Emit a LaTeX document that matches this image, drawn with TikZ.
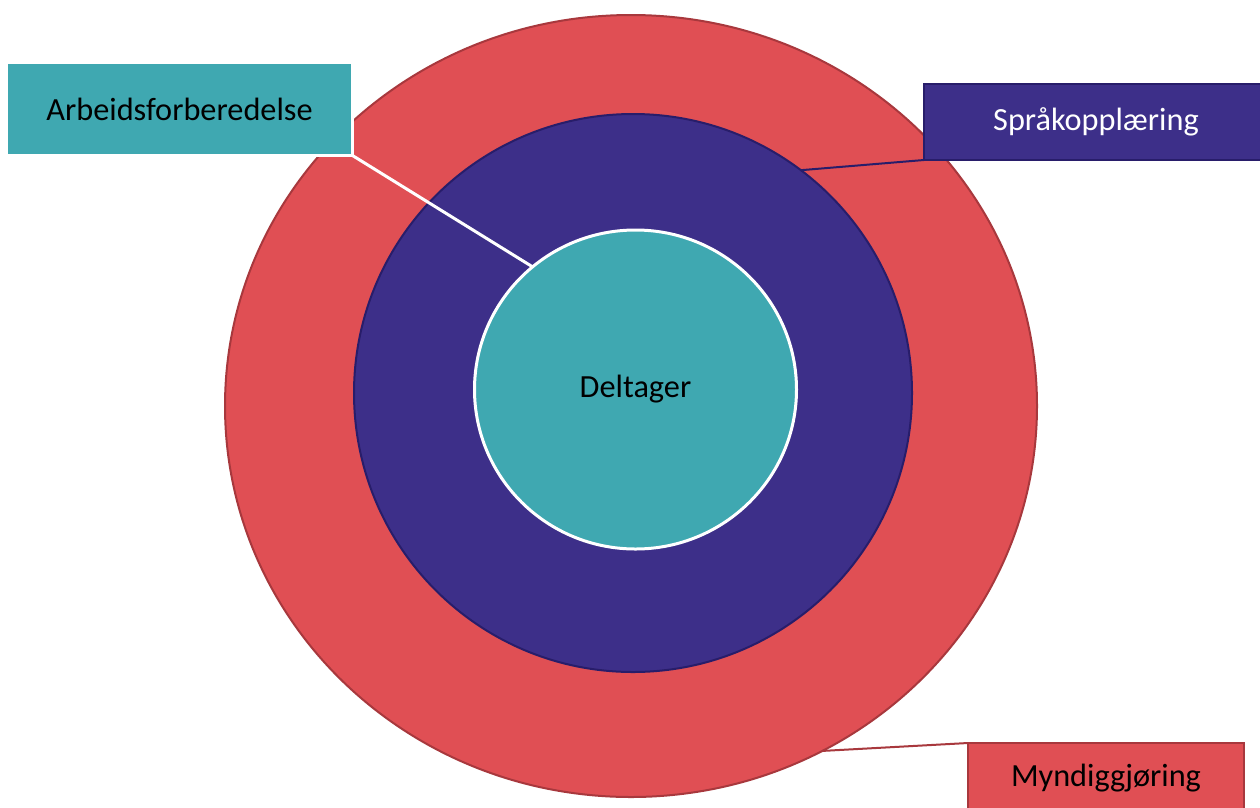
\documentclass[tikz,border=0pt]{standalone}
\usepackage{fontspec}
\setmainfont{Carlito}
\usetikzlibrary{shapes.geometric}
\definecolor{cred}{HTML}{E04F54}
\definecolor{credline}{HTML}{A8383D}
\definecolor{cpurp}{HTML}{3D2F89}
\definecolor{cpurpline}{HTML}{281D6A}
\definecolor{cteal}{HTML}{3FA8B1}
\tikzset{
  ring/.style={ellipse, inner sep=0pt, outer sep=0pt},
  lbl/.style={rectangle, inner sep=0pt, outer sep=0pt, font=\fontsize{32.3}{37}\selectfont},
}
\begin{document}
\begin{tikzpicture}[x=1pt,y=-1pt]
\useasboundingbox (0,0) rectangle (1260,807);
\fill[white] (0,0) rectangle (1260,807);
% rings
\node[ring, fill=cred, draw=credline, line width=2pt, minimum width=812pt, minimum height=782pt] (outer) at (631,406) {};
\node[ring, fill=cpurp, draw=cpurpline, line width=2pt, minimum width=558pt, minimum height=558pt] (purp) at (633,393) {};
\node[ring, fill=cteal, draw=white, line width=3pt, minimum width=322pt, minimum height=319pt, font=\fontsize{32.3}{37}\selectfont] (delt) at (635.5,389.5) {Deltager};
% labels
\node[lbl, fill=cteal, draw=white, line width=3pt, minimum width=346pt, minimum height=93pt] (arb) at (179.5,109) {Arbeidsforberedelse};
\node[lbl, fill=cpurp, draw=cpurpline, line width=2pt, text=white, minimum width=344pt, minimum height=76pt] (sprak) at (1096,122) {Språkopplæring};
\node[lbl, fill=cred, draw=credline, line width=2pt, minimum width=276pt, minimum height=70pt] (mynd) at (1106,778) {Myndiggjøring};
% connectors
\draw[white, line width=3pt] (arb.south east) -- (delt.130);
\draw[cpurpline, line width=2pt] (sprak.south west) -- (purp.53);
\draw[credline, line width=2pt] (mynd.north west) -- (outer.-61);
\end{tikzpicture}
\end{document}
